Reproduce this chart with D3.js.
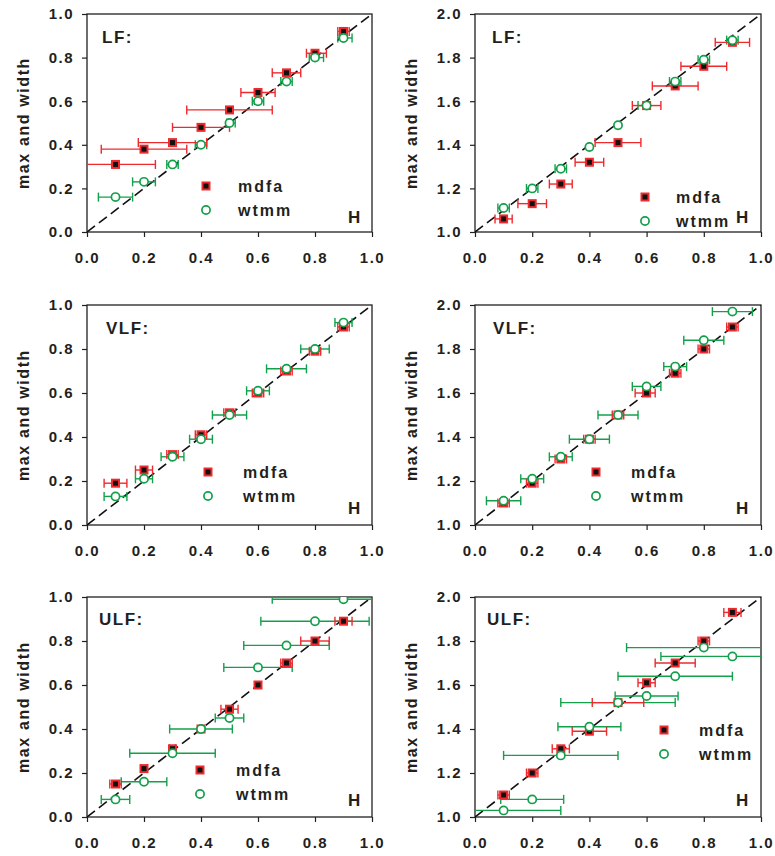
<!DOCTYPE html>
<html>
<head>
<meta charset="utf-8">
<title>max and width vs H</title>
<script src="https://cdn.jsdelivr.net/npm/d3@7"></script>
<style>
    body { margin: 0; background: #fff; }
    text { font-family: "Liberation Sans", Arial, sans-serif; font-weight: bold; fill: #231f20; }
    .tick text { font-size: 15px; letter-spacing: 1.5px; }
    .tick line { stroke: #231f20; stroke-width: 1.2; }
    .frame { fill: none; stroke: #231f20; stroke-width: 1.3; }
    .diag { stroke: #111; stroke-width: 1.6; stroke-dasharray: 10,5; fill: none; }
</style>
</head>
<body>
<script>
// H values (x positions of all points)
var H = [0.1, 0.2, 0.3, 0.4, 0.5, 0.6, 0.7, 0.8, 0.9];
var xTicks = [0, 0.2, 0.4, 0.6, 0.8, 1.0];
var yTicksLeft = [0, 0.2, 0.4, 0.6, 0.8, 1.0];
var yTicksRight = [1.0, 1.2, 1.4, 1.6, 1.8, 2.0];

// LF, left (max)
var lfMaxMdfa     = [0.31, 0.38, 0.41, 0.48, 0.56, 0.64, 0.73, 0.82, 0.92];
var lfMaxMdfaLo   = [-0.04, 0.05, 0.18, 0.30, 0.35, 0.54, 0.65, 0.77, 0.88];
var lfMaxMdfaHi   = [0.24, 0.35, 0.42, 0.50, 0.65, 0.66, 0.75, 0.84, 0.92];
var lfMaxWtmm     = [0.16, 0.23, 0.31, 0.40, 0.50, 0.60, 0.69, 0.80, 0.89];
var lfMaxWtmmLo   = [0.04, 0.16, 0.28, 0.38, 0.49, 0.58, 0.68, 0.78, 0.88];
var lfMaxWtmmHi   = [0.16, 0.24, 0.32, 0.42, 0.52, 0.62, 0.72, 0.83, 0.93];

// LF, right (width)
var lfWidMdfa     = [1.06, 1.13, 1.22, 1.32, 1.41, 1.58, 1.67, 1.76, 1.87];
var lfWidMdfaLo   = [0.07, 0.15, 0.26, 0.35, 0.42, 0.55, 0.62, 0.72, 0.84];
var lfWidMdfaHi   = [0.13, 0.25, 0.34, 0.45, 0.58, 0.65, 0.78, 0.88, 0.96];
var lfWidWtmm     = [1.11, 1.20, 1.29, 1.39, 1.49, 1.58, 1.69, 1.79, 1.88];
var lfWidWtmmLo   = [0.08, 0.18, 0.28, 0.40, 0.50, 0.57, 0.68, 0.78, 0.88];
var lfWidWtmmHi   = [0.12, 0.22, 0.32, 0.40, 0.50, 0.61, 0.72, 0.82, 0.92];

// VLF, left (max)
var vlfMaxMdfa    = [0.19, 0.25, 0.32, 0.41, 0.51, 0.60, 0.70, 0.79, 0.90];
var vlfMaxMdfaLo  = [0.06, 0.17, 0.28, 0.38, 0.48, 0.58, 0.68, 0.78, 0.88];
var vlfMaxMdfaHi  = [0.14, 0.23, 0.32, 0.42, 0.52, 0.62, 0.72, 0.82, 0.92];
var vlfMaxWtmm    = [0.13, 0.21, 0.31, 0.39, 0.50, 0.61, 0.71, 0.80, 0.92];
var vlfMaxWtmmLo  = [0.06, 0.17, 0.26, 0.36, 0.44, 0.56, 0.63, 0.75, 0.87];
var vlfMaxWtmmHi  = [0.14, 0.23, 0.34, 0.44, 0.56, 0.64, 0.77, 0.85, 0.93];

// VLF, right (width)
var vlfWidMdfa    = [1.10, 1.19, 1.30, 1.39, 1.50, 1.60, 1.69, 1.80, 1.90];
var vlfWidMdfaLo  = [0.08, 0.18, 0.28, 0.38, 0.48, 0.56, 0.68, 0.78, 0.88];
var vlfWidMdfaHi  = [0.12, 0.22, 0.32, 0.42, 0.52, 0.63, 0.72, 0.82, 0.92];
var vlfWidWtmm    = [1.11, 1.21, 1.31, 1.39, 1.50, 1.63, 1.72, 1.84, 1.97];
var vlfWidWtmmLo  = [0.04, 0.16, 0.26, 0.33, 0.43, 0.55, 0.66, 0.73, 0.83];
var vlfWidWtmmHi  = [0.16, 0.24, 0.34, 0.47, 0.57, 0.65, 0.74, 0.87, 0.97];

// ULF, left (max)
var ulfMaxMdfa    = [0.15, 0.22, 0.31, 0.40, 0.49, 0.60, 0.70, 0.80, 0.89];
var ulfMaxMdfaLo  = [0.08, 0.19, 0.29, 0.40, 0.47, 0.60, 0.68, 0.75, 0.87];
var ulfMaxMdfaHi  = [0.12, 0.21, 0.31, 0.40, 0.53, 0.60, 0.72, 0.85, 0.93];
var ulfMaxWtmm    = [0.08, 0.16, 0.29, 0.40, 0.45, 0.68, 0.78, 0.89, 0.99];
var ulfMaxWtmmLo  = [0.05, 0.12, 0.15, 0.29, 0.45, 0.48, 0.55, 0.61, 0.65];
var ulfMaxWtmmHi  = [0.15, 0.28, 0.45, 0.51, 0.55, 0.72, 0.85, 0.99, 1.15];

// ULF, right (width)
var ulfWidMdfa    = [1.10, 1.20, 1.31, 1.39, 1.52, 1.61, 1.70, 1.80, 1.93];
var ulfWidMdfaLo  = [0.08, 0.18, 0.27, 0.34, 0.41, 0.57, 0.63, 0.78, 0.87];
var ulfWidMdfaHi  = [0.12, 0.22, 0.33, 0.46, 0.59, 0.63, 0.77, 0.82, 0.93];
var ulfWidWtmm    = [1.03, 1.08, 1.28, 1.41, 1.52, 1.55, 1.64, 1.77, 1.73];
var ulfWidWtmmLo  = [-0.10, 0.09, 0.10, 0.29, 0.30, 0.49, 0.50, 0.53, 0.65];
var ulfWidWtmmHi  = [0.30, 0.31, 0.50, 0.51, 0.70, 0.71, 0.90, 1.07, 1.15];

var red = "#ee2a2f", green = "#12a04b";

var width = 775, height = 856;

var cols = [{x: 87, w: 285}, {x: 475, w: 286}];
var rows = [{y: 14, h: 218}, {y: 305, h: 220}, {y: 597, h: 220}];

var panels = [
    {label: "LF:",  col: 0, row: 0, y0: 0, yTicks: yTicksLeft,
        mdfa: [lfMaxMdfa, lfMaxMdfaLo, lfMaxMdfaHi], wtmm: [lfMaxWtmm, lfMaxWtmmLo, lfMaxWtmmHi],
        lab: [15, 29], leg: [119, 172, 151]},
    {label: "LF:",  col: 1, row: 0, y0: 1, yTicks: yTicksRight,
        mdfa: [lfWidMdfa, lfWidMdfaLo, lfWidMdfaHi], wtmm: [lfWidWtmm, lfWidWtmmLo, lfWidWtmmHi],
        lab: [17, 29], leg: [170, 183, 201]},
    {label: "VLF:", col: 0, row: 1, y0: 0, yTicks: yTicksLeft,
        mdfa: [vlfMaxMdfa, vlfMaxMdfaLo, vlfMaxMdfaHi], wtmm: [vlfMaxWtmm, vlfMaxWtmmLo, vlfMaxWtmmHi],
        lab: [19, 29], leg: [121, 167, 156]},
    {label: "VLF:", col: 1, row: 1, y0: 1, yTicks: yTicksRight,
        mdfa: [vlfWidMdfa, vlfWidMdfaLo, vlfWidMdfaHi], wtmm: [vlfWidWtmm, vlfWidWtmmLo, vlfWidWtmmHi],
        lab: [18, 29], leg: [121, 167, 156]},
    {label: "ULF:", col: 0, row: 2, y0: 0, yTicks: yTicksLeft,
        mdfa: [ulfMaxMdfa, ulfMaxMdfaLo, ulfMaxMdfaHi], wtmm: [ulfMaxWtmm, ulfMaxWtmmLo, ulfMaxWtmmHi],
        lab: [12, 28], leg: [113, 173, 149]},
    {label: "ULF:", col: 1, row: 2, y0: 1, yTicks: yTicksRight,
        mdfa: [ulfWidMdfa, ulfWidMdfaLo, ulfWidMdfaHi], wtmm: [ulfWidWtmm, ulfWidWtmmLo, ulfWidWtmmHi],
        lab: [12, 28], leg: [189, 133, 224]}
];

var svg = d3.select("body").append("svg")
    .attr("width", width)
    .attr("height", height);

function rows2pts(arr) {
    return H.map(function (h, i) {
        return {h: h, v: arr[0][i], lo: arr[1][i], hi: arr[2][i]};
    });
}

panels.forEach(function (p, pi) {
    var c = cols[p.col], r = rows[p.row];
    var x = d3.scaleLinear().domain([0, 1]).range([0, c.w]);
    var y = d3.scaleLinear().domain([p.y0, p.y0 + 1]).range([r.h, 0]);

    var g = svg.append("g").attr("transform", "translate(" + c.x + "," + r.y + ")");

    g.append("clipPath").attr("id", "clip" + pi)
        .append("rect").attr("width", c.w).attr("height", r.h);

    // axes
    g.append("g")
        .call(d3.axisLeft(y).tickValues(p.yTicks).tickFormat(d3.format(".1f"))
            .tickSize(5).tickSizeOuter(0).tickPadding(8))
        .call(function (a) { a.select(".domain").remove(); });

    g.append("g")
        .attr("transform", "translate(0," + r.h + ")")
        .call(d3.axisBottom(x).tickValues(xTicks).tickFormat(d3.format(".1f"))
            .tickSize(5).tickSizeOuter(0).tickPadding(15))
        .call(function (a) { a.select(".domain").remove(); });

    g.selectAll(".tick text").attr("fill", "#231f20");

    g.append("rect").attr("class", "frame")
        .attr("width", c.w).attr("height", r.h);

    g.append("text")
        .attr("transform", "translate(-58," + (r.h / 2) + ")rotate(-90)")
        .attr("text-anchor", "middle")
        .style("font-size", "16px")
        .style("letter-spacing", "1.6px")
        .text("max and width");

    var plot = g.append("g").attr("clip-path", "url(#clip" + pi + ")");

    // y = H diagonal
    plot.append("line").attr("class", "diag")
        .attr("x1", x(0)).attr("y1", y(p.y0))
        .attr("x2", x(1)).attr("y2", y(p.y0 + 1));

    var md = rows2pts(p.mdfa), wt = rows2pts(p.wtmm);

    function bars(data, color) {
        var b = plot.append("g").attr("stroke", color).attr("stroke-width", 1.4)
            .selectAll("g").data(data.filter(function (d) { return d.hi - d.lo > 0.001; }))
            .enter().append("g");
        b.append("line")
            .attr("x1", function (d) { return x(d.lo); })
            .attr("x2", function (d) { return x(d.hi); })
            .attr("y1", function (d) { return y(d.v); })
            .attr("y2", function (d) { return y(d.v); });
        ["lo", "hi"].forEach(function (k) {
            b.append("line")
                .attr("x1", function (d) { return x(d[k]); })
                .attr("x2", function (d) { return x(d[k]); })
                .attr("y1", function (d) { return y(d.v) - 4.5; })
                .attr("y2", function (d) { return y(d.v) + 4.5; });
        });
    }

    bars(wt, green);
    bars(md, red);

    function square(sel) {
        sel.append("rect").attr("x", -4.5).attr("y", -4.5).attr("width", 9).attr("height", 9)
            .attr("fill", red);
        sel.append("rect").attr("x", -2.5).attr("y", -2.5).attr("width", 5).attr("height", 5)
            .attr("fill", "#111");
    }
    function circle(sel) {
        sel.append("circle").attr("r", 4.1)
            .attr("fill", "#fff").attr("stroke", green).attr("stroke-width", 1.7);
    }

    plot.append("g").selectAll("g").data(md).enter().append("g")
        .attr("transform", function (d) { return "translate(" + x(d.h) + "," + y(d.v) + ")"; })
        .call(square);

    plot.append("g").selectAll("g").data(wt).enter().append("g")
        .attr("transform", function (d) { return "translate(" + x(d.h) + "," + y(d.v) + ")"; })
        .call(circle);

    // panel label and H
    g.append("text").attr("x", p.lab[0]).attr("y", p.lab[1])
        .style("font-size", "17px").style("letter-spacing", "1.5px")
        .text(p.label);

    g.append("text").attr("x", 261).attr("y", 209)
        .style("font-size", "17px")
        .text("H");

    // legend
    var lg = g.append("g");
    lg.append("g").attr("transform", "translate(" + p.leg[0] + "," + p.leg[1] + ")").call(square);
    lg.append("g").attr("transform", "translate(" + p.leg[0] + "," + (p.leg[1] + 24) + ")").call(circle);
    lg.append("text").attr("x", p.leg[2]).attr("y", p.leg[1] + 6)
        .style("font-size", "16px").style("letter-spacing", "2px").text("mdfa");
    lg.append("text").attr("x", p.leg[2]).attr("y", p.leg[1] + 30)
        .style("font-size", "16px").style("letter-spacing", "2px").text("wtmm");
});
</script>
</body>
</html>
